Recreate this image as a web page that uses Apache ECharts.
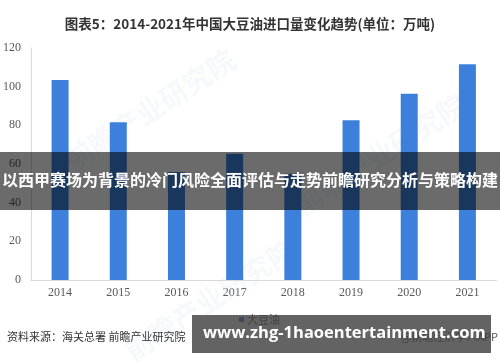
<!DOCTYPE html>
<html>
<head>
<meta charset="utf-8">
<script src="https://cdn.jsdelivr.net/npm/echarts@6/dist/echarts.min.js"></script>
<style>html,body{margin:0;padding:0;background:#fff}#c{width:500px;height:362px}</style>
</head>
<body>
<div id="c"></div>
<script>
var years = ['2014','2015','2016','2017','2018','2019','2020','2021'];
var soybeanOil = [103.4, 81.6, 55.8, 65.3, 54.9, 82.6, 96.3, 111.6];
var yTicks = {min: 0, max: 120, interval: 20};
var seriesName = '大豆油';
var titleText = '图表5：2014-2021年中国大豆油进口量变化趋势(单位：万吨)';
var sourceText = '资料来源：海关总署 前瞻产业研究院';
var bannerText = '以西甲赛场为背景的冷门风险全面评估与走势前瞻研究分析与策略构建';
var urlText = 'www.zhg-1haoentertainment.com';

var chart = echarts.init(document.getElementById('c'), null, {renderer: 'canvas'});
var cjk = '"Noto Sans CJK SC", "Noto Sans", sans-serif';
var serif = '"Liberation Serif", "DejaVu Serif", serif';
chart.setOption({
  animation: false,
  backgroundColor: '#ffffff',
  title: {
    text: titleText,
    left: 'center',
    top: 12,
    textStyle: {fontFamily: cjk, fontSize: 13.5, fontWeight: 'bold', color: '#333333'}
  },
  legend: {
    data: [seriesName],
    left: 234,
    top: 309,
    icon: 'rect',
    itemWidth: 5,
    itemHeight: 5,
    itemGap: 4,
    textStyle: {fontFamily: cjk, fontSize: 11, color: '#595959', padding: [0,0,0,-2]}
  },
  grid: {left: 31, right: 3.5, top: 48, bottom: 82, containLabel: false},
  xAxis: {
    type: 'category',
    data: years,
    axisLine: {show: true, lineStyle: {color: '#d9d9d9', width: 1}},
    axisTick: {show: false},
    axisLabel: {fontFamily: serif, fontSize: 12, color: '#595959', margin: 7}
  },
  yAxis: {
    type: 'value',
    min: yTicks.min,
    max: yTicks.max,
    interval: yTicks.interval,
    axisLine: {show: true, lineStyle: {color: '#d9d9d9', width: 1}},
    axisTick: {show: false},
    splitLine: {show: false},
    axisLabel: {fontFamily: serif, fontSize: 12, color: '#595959', margin: 10}
  },
  series: [{
    name: seriesName,
    type: 'bar',
    data: soybeanOil,
    barWidth: 17,
    itemStyle: {color: '#3c80dc'}
  }],
  graphic: [
    {type: 'text', left: 60, top: 45, rotation: Math.PI/5.5, z: 1, silent: true,
     style: {text: '前瞻产业研究院', font: 'bold 28px ' + cjk, fill: 'rgba(215,225,238,0.22)'}},
    {type: 'text', left: 290, top: 90, rotation: Math.PI/5.5, z: 1, silent: true,
     style: {text: '前瞻产业研究院', font: 'bold 28px ' + cjk, fill: 'rgba(215,225,238,0.22)'}},
    {type: 'text', left: 120, top: 235, rotation: Math.PI/5.5, z: 1, silent: true,
     style: {text: '前瞻产业研究院', font: 'bold 28px ' + cjk, fill: 'rgba(215,225,238,0.22)'}},
    {type: 'text', left: 7, top: 331, z: 50, silent: true,
     style: {text: sourceText, font: '11px ' + cjk, fill: '#333333'}},
    {type: 'text', right: 2, top: 331, z: 50, silent: true,
     style: {text: '@前瞻经济学人APP', font: '11px ' + cjk, fill: '#555555'}},
    {type: 'rect', left: 0, top: 152, z: 100, silent: true,
     shape: {width: 500, height: 58}, style: {fill: 'rgba(0,0,0,0.58)'}},
    {type: 'text', left: 'center', top: 172, z: 101, silent: true,
     style: {text: bannerText, font: 'bold 16px ' + cjk, fill: '#ffffff', textVerticalAlign: 'top'}},
    {type: 'rect', left: 192, top: 315, z: 100, silent: true,
     shape: {width: 299, height: 38}, style: {fill: 'rgba(60,60,60,0.8)'}},
    {type: 'text', left: 203, top: 325, z: 101, silent: true,
     style: {text: urlText, font: 'bold 16.5px "Open Sans", "DejaVu Sans", sans-serif', fill: '#ffffff'}}
  ]
});
</script>
</body>
</html>
